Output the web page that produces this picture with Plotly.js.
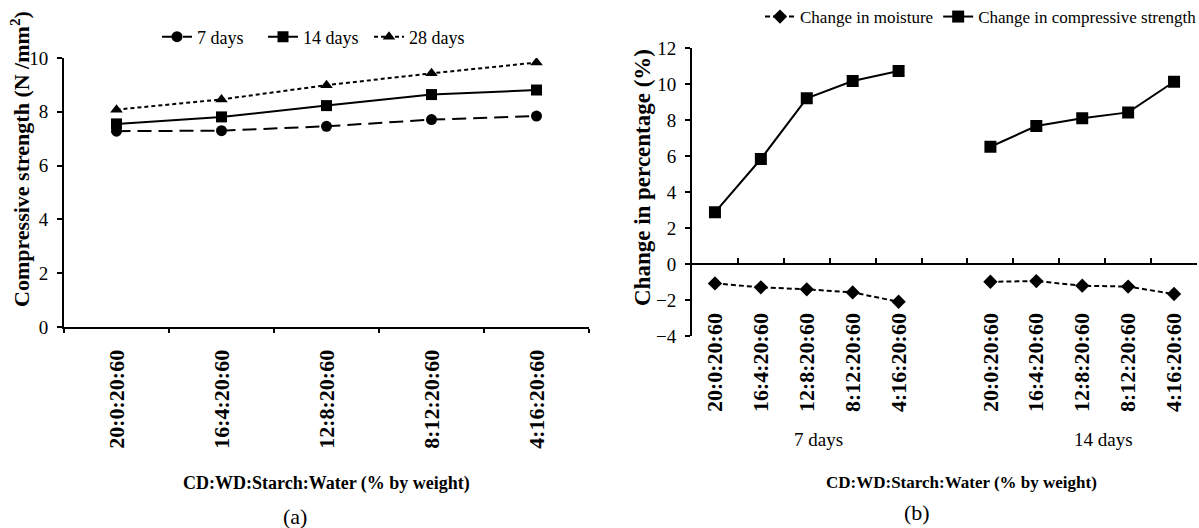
<!DOCTYPE html>
<html>
<head>
<meta charset="utf-8">
<script src="https://cdn.plot.ly/plotly-3.0.1.min.js"></script>
<style>html,body{margin:0;padding:0;background:#fff;overflow:hidden;}</style>
</head>
<body>
<div id="chart" style="width:1199px;height:528px;"></div>
<script>
// ---- data ----
const mixes = ['20:0:20:60', '16:4:20:60', '12:8:20:60', '8:12:20:60', '4:16:20:60'];
// (a) compressive strength, N/mm2
const strength7 = [7.28, 7.30, 7.46, 7.71, 7.84];
const strength14 = [7.55, 7.81, 8.23, 8.64, 8.81];
const strength28 = [8.08, 8.46, 8.99, 9.43, 9.83];
// (b) change in percentage
const moisture7 = [-1.06, -1.28, -1.39, -1.56, -2.08];
const moisture14 = [-0.97, -0.93, -1.19, -1.24, -1.65];
const csChange7 = [2.89, 5.85, 9.22, 10.18, 10.74];
const csChange14 = [6.53, 7.68, 8.11, 8.44, 10.14];
const groupLabels = ['7 days', '14 days'];

// ---- build (b) category keys ----
const keys7 = mixes.map(m => '7d ' + m);
const keys14 = mixes.map(m => '14d ' + m);
const gapKey = 'gap';
const xb = [...keys7, gapKey, ...keys14];
const xbText = [...mixes, '', ...mixes];
const moistB = [...moisture7, null, ...moisture14];
const csB = [...csChange7, null, ...csChange14];

const W = 1199, H = 528;
const px = v => v / W;
const py = v => (H - v) / H;

const serif = '"Liberation Serif", "Times New Roman", serif';

const traces = [
  {x: mixes, y: strength7, name: '7 days', type: 'scatter', mode: 'lines+markers',
   line: {color: '#000', width: 2, dash: '14px,7px'}, marker: {symbol: 'circle', size: 11, color: '#000'},
   xaxis: 'x', yaxis: 'y', legend: 'legend'},
  {x: mixes, y: strength14, name: '14 days', type: 'scatter', mode: 'lines+markers',
   line: {color: '#000', width: 2}, marker: {symbol: 'square', size: 11, color: '#000'},
   xaxis: 'x', yaxis: 'y', legend: 'legend'},
  {x: mixes, y: strength28, name: '28 days', type: 'scatter', mode: 'lines+markers',
   line: {color: '#000', width: 2, dash: '4px,3px'}, marker: {symbol: 'triangle-up', size: 11, color: '#000'},
   xaxis: 'x', yaxis: 'y', legend: 'legend'},
  {x: xb, y: moistB, name: 'Change in moisture', type: 'scatter', mode: 'lines+markers', connectgaps: false,
   line: {color: '#000', width: 2, dash: '5px,3px'}, marker: {symbol: 'diamond', size: 11, color: '#000'},
   xaxis: 'x2', yaxis: 'y2', legend: 'legend2'},
  {x: xb, y: csB, name: 'Change in compressive strength', type: 'scatter', mode: 'lines+markers', connectgaps: false,
   line: {color: '#000', width: 2}, marker: {symbol: 'square', size: 12, color: '#000'},
   xaxis: 'x2', yaxis: 'y2', legend: 'legend2'}
];

const yDomA = [py(327), py(58)];
const yDomB = [py(336.3), py(48.3)];
const yRangeB = [-4, 12];
const zeroPosB = yDomB[0] + (0 - yRangeB[0]) / (yRangeB[1] - yRangeB[0]) * (yDomB[1] - yDomB[0]);

const ann = (text, x, y, size, extra) => Object.assign({
  text: text, xref: 'paper', yref: 'paper', x: px(x), y: py(y),
  xanchor: 'center', yanchor: 'middle', showarrow: false,
  font: {family: serif, size: size, color: '#000'}
}, extra || {});

const layout = {
  width: W, height: H,
  margin: {l: 0, r: 0, t: 0, b: 0, autoexpand: false},
  paper_bgcolor: '#fff', plot_bgcolor: 'rgba(0,0,0,0)',
  font: {family: serif, color: '#000', size: 18},
  showlegend: true,
  xaxis: {
    domain: [px(64), px(589)], anchor: 'y', type: 'category',
    range: [-0.5, mixes.length - 0.5],
    showline: true, linecolor: '#000', linewidth: 2, showgrid: false, zeroline: false,
    ticks: 'outside', ticklen: 4, tickwidth: 2, tickcolor: '#000', tickson: 'boundaries',
    tickangle: -90, ticklabelstandoff: 12,
    tickfont: {family: serif, size: 22, weight: 'bold'}, automargin: false
  },
  yaxis: {
    domain: yDomA, anchor: 'x', range: [0, 10], dtick: 2, tick0: 0,
    showline: true, linecolor: '#000', linewidth: 2, showgrid: false, zeroline: false,
    ticks: 'outside', ticklen: 5, tickwidth: 2, tickcolor: '#000', ticklabelstandoff: 5,
    tickfont: {family: serif, size: 19}, automargin: false
  },
  xaxis2: {
    domain: [px(692), px(1197)], anchor: 'free', position: zeroPosB, type: 'category',
    categoryorder: 'array', categoryarray: xb, range: [-0.5, xb.length - 0.5],
    tickmode: 'array', tickvals: xb, ticktext: xbText,
    showline: true, linecolor: '#000', linewidth: 2, showgrid: false, zeroline: false,
    ticks: 'inside', ticklen: 5, tickwidth: 2, tickcolor: '#000', tickson: 'boundaries',
    tickangle: -90, ticklabelstandoff: 39,
    tickfont: {family: serif, size: 22, weight: 'bold'}, automargin: false
  },
  yaxis2: {
    domain: yDomB, anchor: 'x2', range: yRangeB, dtick: 2, tick0: 0,
    showline: true, linecolor: '#000', linewidth: 2, showgrid: false, zeroline: false,
    ticks: 'outside', ticklen: 5, tickwidth: 2, tickcolor: '#000', ticklabelstandoff: 5,
    tickfont: {family: serif, size: 19}, automargin: false
  },
  legend: {
    orientation: 'h', x: px(157), xanchor: 'left', y: py(37), yanchor: 'middle',
    font: {family: serif, size: 18}, itemwidth: 30, bgcolor: 'rgba(0,0,0,0)',
    entrywidth: 61, entrywidthmode: 'pixels'
  },
  legend2: {
    orientation: 'h', x: px(760), xanchor: 'left', y: py(17), yanchor: 'middle',
    font: {family: serif, size: 17}, itemwidth: 30, bgcolor: 'rgba(0,0,0,0)'
  },
  annotations: [
    ann('<b>Compressive strength (N /mm<sup>2</sup>)</b>', 20, 159, 22, {textangle: -90}),
    ann('<b>CD:WD:Starch:Water (% by weight)</b>', 326, 483, 18),
    ann('(a)', 295, 516, 22),
    ann('<b>Change in percentage (%)</b>', 642, 178, 23, {textangle: -90}),
    ann('<b>CD:WD:Starch:Water (% by weight)</b>', 961, 482, 17),
    ann('(b)', 917, 512, 22),
    ann(groupLabels[0], 818, 439, 19),
    ann(groupLabels[1], 1103, 439, 19)
  ]
};

Plotly.newPlot('chart', traces, layout, {displayModeBar: false, staticPlot: true});
</script>
</body>
</html>
